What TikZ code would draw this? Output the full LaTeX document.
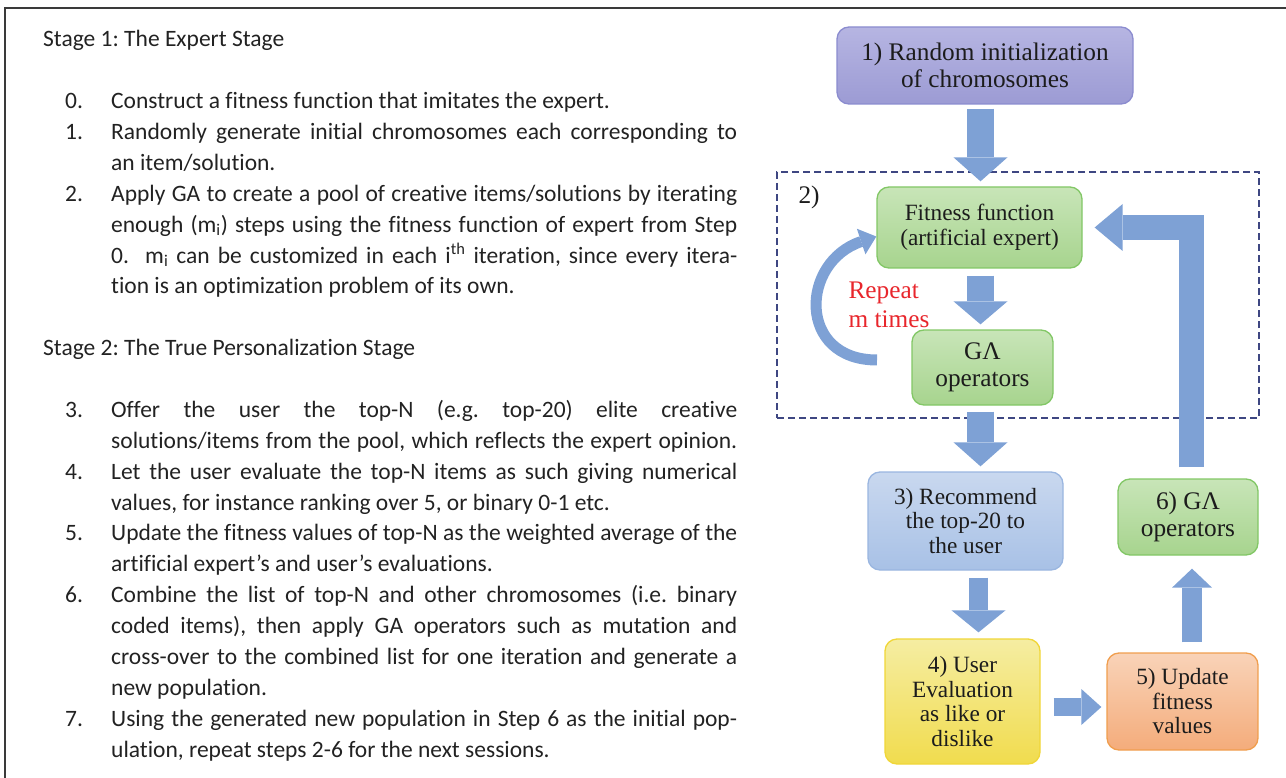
\documentclass[tikz,border=0pt]{standalone}
\usepackage{fontspec}
\usetikzlibrary{arrows.meta,calc}
\newfontfamily\carl[Ligatures=NoCommon]{Carlito}
\newfontfamily\tms{Liberation Serif}
\definecolor{framec}{HTML}{3A3A3A}
\definecolor{textc}{HTML}{222222}
\definecolor{dtext}{HTML}{1C1C1C}
\definecolor{arrowc}{HTML}{7EA1D5}
\definecolor{dashc}{HTML}{3E4782}
\definecolor{redc}{HTML}{E8262C}
\definecolor{pTop}{HTML}{B6B5E2}
\definecolor{pBot}{HTML}{9C9BD4}
\definecolor{pBor}{HTML}{8B8CCF}
\definecolor{gTop}{HTML}{C8E5B8}
\definecolor{gBot}{HTML}{A7D48E}
\definecolor{gBor}{HTML}{82C766}
\definecolor{bTop}{HTML}{C9D8EF}
\definecolor{bBot}{HTML}{A8C1E6}
\definecolor{bBor}{HTML}{9AB6E0}
\definecolor{yTop}{HTML}{F5EDA2}
\definecolor{yBot}{HTML}{F1DC4E}
\definecolor{yBor}{HTML}{F0D638}
\definecolor{oTop}{HTML}{F9D3B8}
\definecolor{oBot}{HTML}{F4AC7B}
\definecolor{oBor}{HTML}{F09E4E}
\newcommand\jl[1]{\hbox{\hskip68pt\hbox to 626pt{#1}}}
\newcommand\natl[1]{\hbox{\hskip68pt #1}}
\newcommand\itj[2]{\hbox{\hskip22pt\hbox to 46pt{#1\hfil}\hbox to 626pt{#2}}}
\newcommand\itn[2]{\hbox{\hskip22pt\hbox to 46pt{#1\hfil}#2}}
\tikzset{
  box/.style={draw, rounded corners=12pt, line width=1.3pt, align=center, inner sep=2pt, text=dtext},
  small/.style={font=\tms\fontsize{23.3}{24.5}\selectfont},
  big/.style={font=\tms\fontsize{25.3}{26.5}\selectfont},
  purplebox/.style={box, big, draw=pBor, top color=pTop, bottom color=pBot},
  greenbox/.style={box, draw=gBor, top color=gTop, bottom color=gBot},
  bluebox/.style={box, small, draw=bBor, top color=bTop, bottom color=bBot},
  yellowbox/.style={box, small, draw=yBor, top color=yTop, bottom color=yBot},
  orangebox/.style={box, small, draw=oBor, top color=oTop, bottom color=oBot},
  blockarrow/.style={draw=arrowc, line width=#1},
}
\begin{document}
\begin{tikzpicture}[x=1pt,y=-1pt]
\useasboundingbox (0,0) rectangle (1286,778);
% frame
\draw[framec, line width=2pt] (5,778) -- (5,8.5) -- (1286,8.5);
% left text
\node[anchor=base west, inner sep=0pt, text=textc] (steps) at (43,47) {\carl\frenchspacing\fontsize{23.5}{30.87}\selectfont
\vtop{\baselineskip=30.87pt\lineskip=0pt\lineskiplimit=-100pt
\hbox{Stage 1: The Expert Stage}
\hbox{}
\itn{0.}{Construct a fitness function that imitates the expert.}
\itj{1.}{Randomly generate initial chromosomes each corresponding to}
\natl{an item/solution.}
\itj{2.}{Apply GA to create a pool of creative items/solutions by iterating}
\jl{enough (m\textsubscript{i}) steps using the fitness function of expert from Step}
\jl{0.\ \ m\textsubscript{i} can be customized in each i\textsuperscript{th} iteration, since every itera-}
\natl{tion is an optimization problem of its own.}
\hbox{}
\hbox{Stage 2: The True Personalization Stage}
\hbox{}
\itj{3.}{Offer the user the top-N (e.g. top-20) elite creative}
\jl{solutions/items from the pool, which reflects the expert opinion.}
\itj{4.}{Let the user evaluate the top-N items as such giving numerical}
\natl{values, for instance ranking over 5, or binary 0-1 etc.}
\itj{5.}{Update the fitness values of top-N as the weighted average of the}
\natl{artificial expert’s and user’s evaluations.}
\itj{6.}{Combine the list of top-N and other chromosomes (i.e. binary}
\jl{coded items), then apply GA operators such as mutation and}
\jl{cross-over to the combined list for one iteration and generate a}
\natl{new population.}
\itj{7.}{Using the generated new population in Step 6 as the initial pop-}
\natl{ulation, repeat steps 2-6 for the next sessions.}
}};
% group box
\node[draw=dashc, line width=2pt, dash pattern=on 7pt off 4pt, minimum width=482pt, minimum height=246pt, inner sep=0pt] (grp) at (1018,295) {};
\node[big, text=dtext, anchor=west] (lbl2) at (795,197) {2)};
% boxes
\node[purplebox, minimum width=296pt, minimum height=77pt] (b1) at (985,65.5) {1) Random initialization\\of chromosomes};
\node[greenbox, small, minimum width=205pt, minimum height=81pt] (fit) at (979.5,227.5) {Fitness function\\(artificial expert)};
\node[greenbox, big, minimum width=141pt, minimum height=75pt] (ga) at (982.5,367.5) {GΛ\\operators};
\node[bluebox, minimum width=195pt, minimum height=98pt] (b3) at (965.5,521) {3) Recommend\\the top-20 to\\the user};
\node[yellowbox, minimum width=155pt, minimum height=125pt] (b4) at (962.5,701.5) {4) User\\Evaluation\\as like or\\dislike};
\node[orangebox, minimum width=151pt, minimum height=97pt] (b5) at (1182.5,701.5) {5) Update\\fitness\\values};
\node[greenbox, big, minimum width=140pt, minimum height=76pt] (b6) at (1188,517) {6) GΛ\\operators};
% repeat label
\node[big, text=redc, align=left, anchor=west, font=\tms\fontsize{25.3}{29}\selectfont] (rep) at (845,305) {Repeat\\m times};
% arrows
\draw[blockarrow=27pt, -{Triangle[length=24pt,width=54pt,line width=0pt,fill=arrowc]}]
  ([xshift=-4.5pt,yshift=-4pt]b1.south) -- ([xshift=1pt,yshift=5pt]fit.north);
\draw[blockarrow=27pt, -{Triangle[length=23pt,width=54pt,line width=0pt,fill=arrowc]}]
  ([xshift=1pt,yshift=-7pt]fit.south) -- ([xshift=-2pt,yshift=5pt]ga.north);
\draw[blockarrow=27pt, -{Triangle[length=24pt,width=54pt,line width=0pt,fill=arrowc]}]
  ([xshift=-2pt,yshift=-6pt]ga.south) -- ([xshift=15pt,yshift=5pt]b3.north);
\draw[blockarrow=19pt, -{Triangle[length=22pt,width=54pt,line width=0pt,fill=arrowc]}]
  ([xshift=13pt,yshift=-7pt]b3.south) -- ([xshift=16pt,yshift=6pt]b4.north);
\draw[blockarrow=18pt, -{Triangle[length=20pt,width=36pt,line width=0pt,fill=arrowc]}]
  ([xshift=13pt,yshift=-5.5pt]b4.east) -- ([xshift=-5pt,yshift=-5.5pt]b5.west);
\draw[blockarrow=20pt, -{Triangle[length=19pt,width=40pt,line width=0pt,fill=arrowc]}]
  ([xshift=9.5pt,yshift=10pt]b5.north) -- ([xshift=4pt,yshift=-13pt]b6.south);
\draw[blockarrow=25pt, line join=miter, -{Triangle[length=28pt,width=47pt,line width=0pt,fill=arrowc]}]
  ([xshift=3.5pt,yshift=11pt]b6.north) |- ([xshift=12pt]fit.east);
% repeat loop arrow
\coordinate (cs) at (877,360);
\draw[blockarrow=11pt, -{Triangle[length=16pt,width=27pt,line width=0pt,fill=arrowc]}]
  (cs) .. controls (797,360) and (800,262) .. ([yshift=-9pt]fit.west);
\end{tikzpicture}
\end{document}
